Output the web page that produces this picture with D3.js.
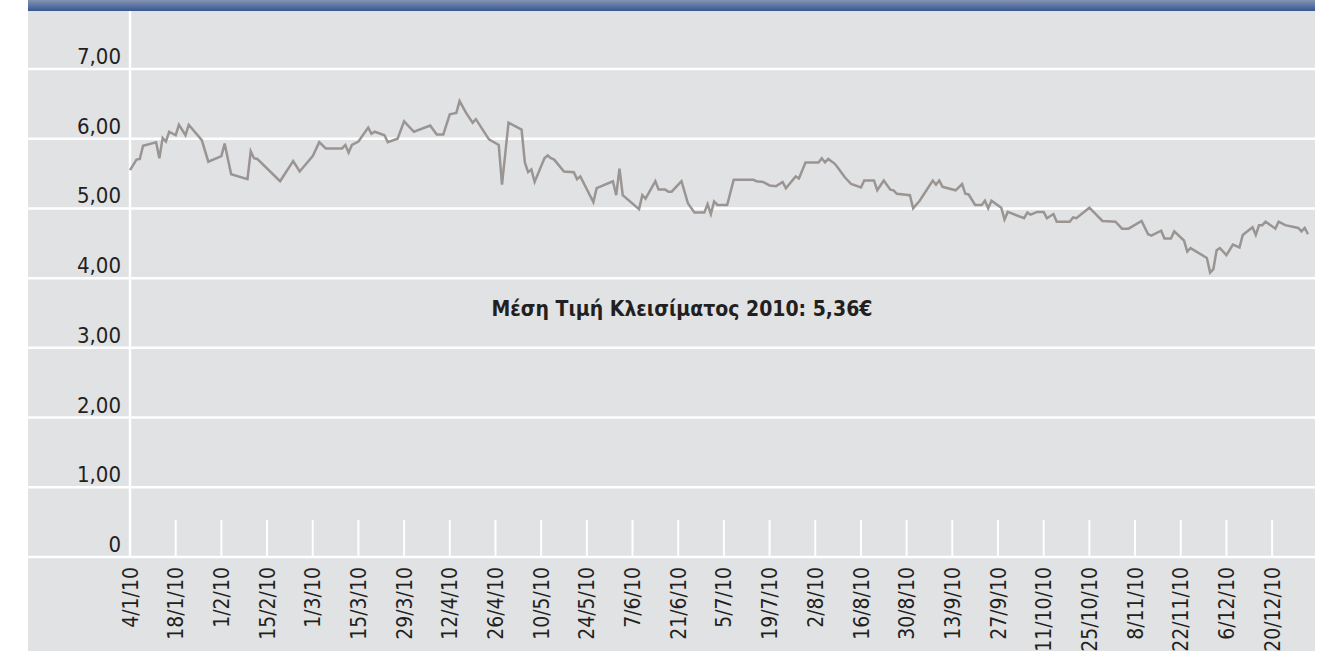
<!DOCTYPE html>
<html>
<head>
<meta charset="utf-8">
<script src="https://cdn.jsdelivr.net/npm/d3@7"></script>
<style>
  body { margin: 0; background: #fff; }
  #chart text { font-family: "DejaVu Sans Condensed", "Liberation Sans Narrow", "DejaVu Sans", sans-serif; fill: #231f20; }
</style>
</head>
<body>
<div id="chart"></div>
<script>
/* closing prices 2010 */
var dates = [
  "2010-01-04","2010-01-06","2010-01-07","2010-01-08","2010-01-12","2010-01-13","2010-01-14","2010-01-15","2010-01-16","2010-01-18",
  "2010-01-19","2010-01-21","2010-01-22","2010-01-26","2010-01-28","2010-02-01","2010-02-02","2010-02-04","2010-02-09","2010-02-10",
  "2010-02-11","2010-02-12","2010-02-19","2010-02-23","2010-02-25","2010-03-01","2010-03-03","2010-03-05","2010-03-10","2010-03-11",
  "2010-03-12","2010-03-13","2010-03-15","2010-03-18","2010-03-19","2010-03-20","2010-03-23","2010-03-24","2010-03-27","2010-03-29",
  "2010-04-01","2010-04-06","2010-04-08","2010-04-10","2010-04-12","2010-04-14","2010-04-15","2010-04-17","2010-04-19","2010-04-20",
  "2010-04-24","2010-04-27","2010-04-28","2010-04-30","2010-05-04","2010-05-05","2010-05-06","2010-05-07","2010-05-08","2010-05-11",
  "2010-05-12","2010-05-13","2010-05-14","2010-05-17","2010-05-20","2010-05-21","2010-05-22","2010-05-26","2010-05-27","2010-06-01",
  "2010-06-02","2010-06-03","2010-06-04","2010-06-09","2010-06-10","2010-06-11","2010-06-14","2010-06-15","2010-06-17","2010-06-18",
  "2010-06-19","2010-06-22","2010-06-24","2010-06-26","2010-06-29","2010-06-30","2010-07-01","2010-07-02","2010-07-03","2010-07-06",
  "2010-07-08","2010-07-14","2010-07-15","2010-07-17","2010-07-19","2010-07-21","2010-07-23","2010-07-24","2010-07-27","2010-07-28",
  "2010-07-30","2010-08-03","2010-08-04","2010-08-05","2010-08-06","2010-08-08","2010-08-09","2010-08-11","2010-08-13","2010-08-16",
  "2010-08-17","2010-08-20","2010-08-21","2010-08-23","2010-08-25","2010-08-26","2010-08-27","2010-08-31","2010-09-01","2010-09-03",
  "2010-09-07","2010-09-08","2010-09-09","2010-09-10","2010-09-14","2010-09-16","2010-09-17","2010-09-18","2010-09-20","2010-09-22",
  "2010-09-23","2010-09-24","2010-09-25","2010-09-28","2010-09-29","2010-09-30","2010-10-05","2010-10-06","2010-10-07","2010-10-09",
  "2010-10-11","2010-10-12","2010-10-14","2010-10-15","2010-10-19","2010-10-20","2010-10-21","2010-10-25","2010-10-29","2010-11-02",
  "2010-11-04","2010-11-06","2010-11-10","2010-11-12","2010-11-13","2010-11-16","2010-11-17","2010-11-19","2010-11-20","2010-11-23",
  "2010-11-24","2010-11-25","2010-11-30","2010-12-01","2010-12-02","2010-12-03","2010-12-04","2010-12-06","2010-12-08","2010-12-10",
  "2010-12-11","2010-12-14","2010-12-15","2010-12-16","2010-12-17","2010-12-18","2010-12-21","2010-12-22","2010-12-24","2010-12-28",
  "2010-12-29","2010-12-30","2010-12-31"
];
var prices = [
  5.55,5.70,5.71,5.90,5.95,5.72,6.01,5.96,6.10,6.05,
  6.20,6.05,6.20,5.98,5.67,5.75,5.93,5.49,5.42,5.82,
  5.72,5.71,5.39,5.68,5.53,5.75,5.95,5.86,5.86,5.91,
  5.80,5.91,5.96,6.16,6.07,6.10,6.05,5.95,6.00,6.25,
  6.10,6.19,6.06,6.06,6.35,6.37,6.54,6.37,6.23,6.28,
  5.99,5.91,5.34,6.23,6.13,5.66,5.52,5.56,5.38,5.72,
  5.76,5.72,5.70,5.53,5.52,5.42,5.46,5.09,5.29,5.39,
  5.19,5.57,5.19,4.99,5.19,5.14,5.39,5.27,5.27,5.24,
  5.24,5.39,5.07,4.94,4.94,5.06,4.92,5.10,5.05,5.05,
  5.41,5.41,5.39,5.38,5.33,5.32,5.38,5.29,5.46,5.43,
  5.66,5.66,5.72,5.66,5.71,5.64,5.58,5.45,5.35,5.30,
  5.40,5.40,5.26,5.40,5.27,5.26,5.21,5.19,5.00,5.11,
  5.40,5.34,5.40,5.31,5.26,5.35,5.21,5.20,5.05,5.05,
  5.11,5.00,5.11,5.01,4.84,4.95,4.86,4.94,4.91,4.95,
  4.95,4.86,4.92,4.81,4.81,4.87,4.86,5.01,4.82,4.81,
  4.71,4.71,4.82,4.63,4.61,4.68,4.57,4.57,4.67,4.54,
  4.38,4.43,4.29,4.08,4.13,4.40,4.43,4.33,4.48,4.44,
  4.62,4.73,4.62,4.76,4.76,4.81,4.71,4.81,4.76,4.72,
  4.67,4.72,4.63
];
var yTicks = [0, 1, 2, 3, 4, 5, 6, 7];
var firstTick = "2010-01-04", lastTick = "2010-12-20", tickStepDays = 14;
var averageLabel = "Μέση Τιμή Κλεισίματος 2010: 5,36€";

var width = 1329, height = 651;
var panelLeft = 28, panelRight = 1315, headerH = 11;
var parseDate = d3.timeParse("%Y-%m-%d");
var grLocale = d3.formatLocale({decimal: ",", thousands: ".", grouping: [3], currency: ["", "€"]});
var fmtY = grLocale.format(".2f");
var fmtX = d3.timeFormat("%-d/%-m/%y");

var data = dates.map(function (d, i) { return {date: parseDate(d), value: prices[i]}; });

var x = d3.scaleTime()
  .domain([parseDate("2010-01-04"), parseDate("2010-12-31")])
  .range([130, 1308]);
var y = d3.scaleLinear()
  .domain([0, 7])
  .range([557, 69]);

var svg = d3.select("#chart").append("svg")
  .attr("width", width)
  .attr("height", height);

/* grey panel + blue header strip */
var defs = svg.append("defs");
var grad = defs.append("linearGradient").attr("id", "hdr").attr("x1", 0).attr("y1", 0).attr("x2", 0).attr("y2", 1);
grad.append("stop").attr("offset", "0%").attr("stop-color", "#8393b3");
grad.append("stop").attr("offset", "100%").attr("stop-color", "#37578f");

svg.append("rect")
  .attr("x", panelLeft).attr("y", 0)
  .attr("width", panelRight - panelLeft).attr("height", height)
  .attr("fill", "#e1e2e4");
svg.append("rect")
  .attr("x", panelLeft).attr("y", 0)
  .attr("width", panelRight - panelLeft).attr("height", headerH)
  .attr("fill", "url(#hdr)");

/* horizontal grid, full panel width */
svg.append("g").selectAll("line")
  .data(yTicks)
  .enter().append("line")
  .attr("x1", panelLeft).attr("x2", panelRight)
  .attr("y1", function (d) { return y(d); })
  .attr("y2", function (d) { return y(d); })
  .attr("stroke", "#fff")
  .attr("stroke-width", 2.5);

/* y axis line */
svg.append("line")
  .attr("x1", x.range()[0]).attr("x2", x.range()[0])
  .attr("y1", headerH).attr("y2", y(0))
  .attr("stroke", "#fff")
  .attr("stroke-width", 2.5);

/* y labels */
svg.append("g").selectAll("text")
  .data(yTicks)
  .enter().append("text")
  .attr("x", 121)
  .attr("y", function (d) { return y(d) - 5; })
  .attr("text-anchor", "end")
  .style("font-size", "22px")
  .text(function (d) { return d === 0 ? "0" : fmtY(d); });

/* x ticks every two weeks */
var tickDates = d3.timeDay.range(parseDate(firstTick), d3.timeDay.offset(parseDate(lastTick), 1), tickStepDays);

svg.append("g").selectAll("line")
  .data(tickDates.slice(1))
  .enter().append("line")
  .attr("x1", function (d) { return x(d); })
  .attr("x2", function (d) { return x(d); })
  .attr("y1", 520).attr("y2", y(0))
  .attr("stroke", "#fff")
  .attr("stroke-width", 2);

svg.append("g").selectAll("text")
  .data(tickDates)
  .enter().append("text")
  .attr("transform", function (d) { return "translate(" + x(d) + ",567) rotate(-90)"; })
  .attr("dy", "0.36em")
  .attr("text-anchor", "end")
  .style("font-size", "21px")
  .text(function (d) { return fmtX(d); });

/* price line */
var line = d3.line()
  .x(function (d) { return x(d.date); })
  .y(function (d) { return y(d.value); });

svg.append("path")
  .datum(data)
  .attr("d", line)
  .attr("fill", "none")
  .attr("stroke", "#9a9593")
  .attr("stroke-width", 2.5)
  .attr("stroke-linejoin", "miter");

/* average annotation */
svg.append("text")
  .attr("x", 682)
  .attr("y", 316)
  .attr("text-anchor", "middle")
  .style("font-size", "21px")
  .style("font-weight", "bold")
  .text(averageLabel);
</script>
</body>
</html>
